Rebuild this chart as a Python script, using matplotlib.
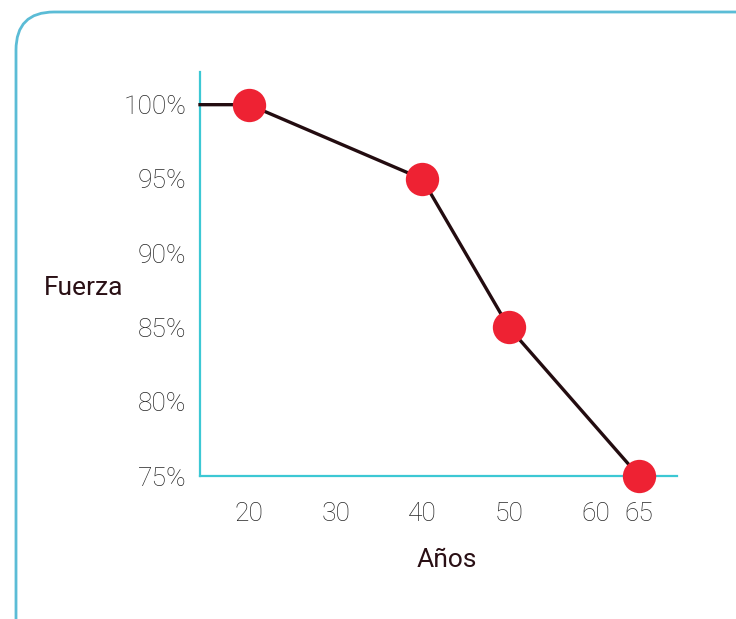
import matplotlib
matplotlib.use("Agg")
import matplotlib.pyplot as plt
from matplotlib.patches import FancyBboxPatch

ages = [20, 40, 50, 65]
strength = [100, 95, 85, 75]
x_ticks = [20, 30, 40, 50, 60, 65]
y_ticks = [75, 80, 85, 90, 95, 100]
y_tick_labels = ["75%", "80%", "85%", "90%", "95%", "100%"]

W, H = 736, 619
fig = plt.figure(figsize=(W / 100, H / 100), dpi=100)
fig.patch.set_facecolor("white")

# rounded frame drawn in figure pixel coordinates
frame = FancyBboxPatch((16, -40), 772, 647,
                       boxstyle="round,pad=0,rounding_size=38",
                       transform=None,
                       fill=False, edgecolor="#5bbcd6", linewidth=2.0)
fig.patches.append(frame)

ax = fig.add_axes([200 / W, 143 / H, 477 / W, 404 / H])
ax.set_xlim(14.35, 69.4)
ax.set_ylim(75, 102.2)
ax.patch.set_alpha(0)

for s in ["top", "right"]:
    ax.spines[s].set_visible(False)
for s in ["left", "bottom"]:
    ax.spines[s].set_color("#3cc8d4")
    ax.spines[s].set_linewidth(1.6)

line_x = [ax.get_xlim()[0]] + ages
line_y = [strength[0]] + strength
ax.plot(line_x, line_y, color="#230c10", linewidth=2.4, zorder=3, clip_on=False)
ax.plot(ages, strength, linestyle="none", marker="o", markersize=24,
        markerfacecolor="#ee2233", markeredgewidth=0, zorder=4, clip_on=False)

tick_font = dict(family="Roboto", weight="light", size=19, color="#262626")
ax.set_xticks(x_ticks)
ax.set_xticklabels([str(t) for t in x_ticks], fontdict=tick_font)
ax.set_yticks(y_ticks)
ax.set_yticklabels(y_tick_labels, fontdict=tick_font)
ax.tick_params(axis="both", length=0)
ax.tick_params(axis="x", pad=19)
ax.tick_params(axis="y", pad=10)

label_font = dict(family="Roboto", size=19, color="#2a1015")
ax.set_ylabel("Fuerza", rotation=0, ha="center", va="center", fontdict=label_font)
ax.yaxis.set_label_coords(-0.245, 0.465)
ax.set_xlabel("Años", ha="center", va="center", fontdict=label_font)
ax.xaxis.set_label_coords(0.518, -0.208)

fig.savefig("out.png", dpi=100, facecolor="white")
